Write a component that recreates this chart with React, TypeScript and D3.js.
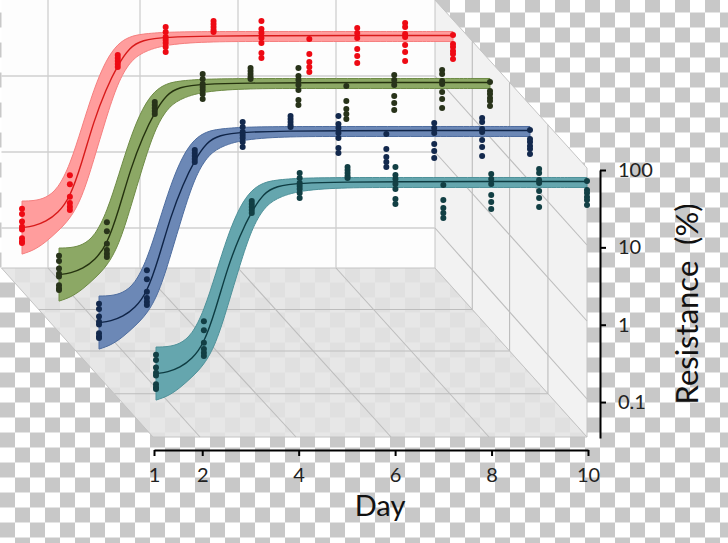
import React, { useEffect, useRef } from 'react';
import * as d3 from 'd3';

// Replicate readings per day (resistance in %), the same set is shown on every plane
const days = [1, 2, 3, 4, 5, 6, 7, 8, 9, 10];
const replicates = [
  [0.41, 0.35, 0.28, 0.24, 0.22, 0.17, 0.155, 0.147],
  [1.11, 0.85, 0.585, 0.484, 0.434, 0.394],
  [39.7, 36.3, 33.2, 30.4, 27.8],
  [91.4, 78.8, 67.9, 62, 56.8, 50.4, 43.5],
  [109, 100, 91.4, 83.6, 78.8],
  [109, 86.1, 76.5, 65.9, 56.8, 42.2, 36.3],
  [64, 40.9, 32.2, 27.8, 23.9],
  [88.8, 76.5, 65.9, 47.5, 38.5, 31.3],
  [103, 91.4, 74.3, 67.9, 53.5, 43.5, 33.2],
  [72, 55, 50.4, 44.8, 40.9, 35.2],
];

// Fitted curve and its band, read at these days
const fitDays = [1, 1.25, 1.5, 1.75, 2, 2.25, 2.5, 2.75, 3, 3.25, 3.5, 4, 5, 6, 8, 10];
const fitMean = [0.233, 0.244, 0.279, 0.36, 0.562, 1.6, 5.6, 14.2, 29.5, 50, 62, 67.9, 70, 70.6, 71, 71];
const fitUpper = [0.514, 0.517, 0.562, 0.74, 1.5, 4.6, 14.4, 34, 56, 68.9, 74.3, 78.8, 80, 80, 80, 80];
const fitLower = [0.106, 0.119, 0.152, 0.21, 0.3, 0.56, 1.75, 5.9, 17.5, 32.3, 43, 55, 59.4, 59.4, 59.4, 59.4];

const seriesNames = ['red', 'green', 'blue', 'teal'];

const dayTicks = [1, 2, 4, 6, 8, 10];
const resistanceTicks = [100, 10, 1, 0.1];
const gridDays = [2, 4, 6, 8];
const gridDecades = [10, 1, 0.1];

// Layout
const width = 728;
const height = 543;
const planeDx = { red: -134, green: -97, blue: -57, teal: 0 };
const planeDy = { red: -146, green: -99, blue: -51, teal: 0 };
const colors = {
  red: { band: '#ff9d9d', edge: '#f57f7f', line: '#d81a1a', dot: '#ee0a14' },
  green: { band: '#8ca865', edge: '#6e8b46', line: '#25320f', dot: '#28331a' },
  blue: { band: '#6c88b6', edge: '#4e6d9f', line: '#0f2447', dot: '#13294d' },
  teal: { band: '#65a6ae', edge: '#4e9199', line: '#0e3c42', dot: '#123f44' },
};

const App = () => {
  const xAxisRef = useRef<SVGGElement>(null);
  const yAxisRef = useRef<SVGGElement>(null);

  const xAxisScale = d3.scaleLinear().domain([1, 10]).range([154, 588]);
  const xSeries = d3.scaleLinear().domain([1, 10]).range([156, 587]);
  const y = d3.scaleLog().domain([0.0343, 100]).range([438, 170]);

  // Grid positions on the back wall and at the front edge of the floor
  const xBack = d3.scaleLinear().domain(gridDays).range([48, 140, 238, 336]);
  const xFront = d3.scaleLinear().domain(gridDays).range([200, 296, 391, 489]);
  const yBack = d3.scaleLog().domain(gridDecades).range([76, 152, 228]);
  const yFront = d3.scaleLog().domain(gridDecades).range([245, 321, 399]);

  useEffect(() => {
    const xAxis = d3.axisBottom(xAxisScale).tickValues(dayTicks).tickFormat((d) => String(d)).tickSize(6).tickPadding(12).tickSizeOuter(0);
    const yAxis = d3.axisRight(y).tickValues(resistanceTicks).tickFormat((d) => String(d)).tickSize(6).tickPadding(12).tickSizeOuter(0);

    [d3.select(xAxisRef.current).call(xAxis), d3.select(yAxisRef.current).call(yAxis)].forEach((g: any) => {
      g.attr('font-family', 'Lato').attr('font-size', 20);
      g.selectAll('path,line').attr('stroke', '#000').attr('stroke-width', 2);
      g.selectAll('text').attr('fill', '#222');
    });
  }, []);

  const fit = fitDays.map((d, i) => ({ day: d, mean: fitMean[i], upper: fitUpper[i], lower: fitLower[i] }));

  return (
    <svg width={width} height={height} style={{ position: 'absolute', left: 0, top: 0 }}>
      <defs>
        <pattern id="checker" x={0} y={-2.5} width={30} height={30} patternUnits="userSpaceOnUse">
          <rect width={30} height={30} fill="#fff" />
          <rect x={15} y={0} width={15} height={15} fill="#c8c8c8" />
          <rect x={0} y={15} width={15} height={15} fill="#c8c8c8" />
        </pattern>
      </defs>
      <rect width={width} height={height} fill="url(#checker)" />

      {/* back wall, floor, side wall */}
      <polygon points="1.5,0 435,0 435,268 1.5,268" fill="#fdfdfd" />
      <polygon points="1.5,268 435,268 587,437 153,437" fill="#e4e4e4" fillOpacity={0.87} stroke="#c4c4c4" strokeWidth={1} />
      <polygon points="435,0 587,168 587,437 435,268" fill="#f2f2f2" stroke="#c4c4c4" strokeWidth={1} />

      {/* grid */}
      <g stroke="#cfcfcf" strokeWidth={1.3} fill="none">
        {gridDays.map((d) => (
          <line key={d} x1={xBack(d)} x2={xBack(d)} y1={0} y2={268} />
        ))}
        {gridDecades.map((v) => (
          <line key={v} x1={1.5} x2={435} y1={yBack(v)} y2={yBack(v)} />
        ))}
      </g>
      <g stroke="#bdbdbd" strokeWidth={1.1} fill="none">
        {gridDays.map((d) => (
          <line key={d} x1={xBack(d)} x2={xFront(d)} y1={268} y2={437} />
        ))}
        {gridDecades.map((v) => (
          <line key={v} x1={435} x2={587} y1={yBack(v)} y2={yFront(v)} />
        ))}
        {[309.5, 351, 393.7].map((fy) => (
          <g key={fy}>
            <line x1={1.5 + (fy - 268) / 1.113} x2={435 + (fy - 268) / 1.113} y1={fy} y2={fy} />
            <line
              x1={435 + (fy - 268) / 1.113}
              x2={435 + (fy - 268) / 1.113}
              y1={fy}
              y2={((fy - 268) / 1.113) * 1.105}
            />
          </g>
        ))}
      </g>

      {/* one plane per series, back to front */}
      {seriesNames.map((name) => {
        const dx = planeDx[name];
        const dy = planeDy[name];
        const c = colors[name];
        const px = (d: number) => xSeries(d) + dx;
        const py = (v: number) => y(v) + dy;
        const area = d3.area<any>().x((d) => px(d.day)).y0((d) => py(d.lower)).y1((d) => py(d.upper)).curve(d3.curveBasis);
        const line = d3.line<any>().x((d) => px(d.day)).y((d) => py(d.mean)).curve(d3.curveBasis);
        return (
          <g key={name}>
            <path d={area(fit)!} fill={c.band} stroke={c.edge} strokeWidth={1} />
            <path d={line(fit)!} fill="none" stroke={c.line} strokeWidth={1.4} />
            {days.map((d, i) =>
              replicates[i].map((v, j) => <circle key={`${d}-${j}`} cx={px(d)} cy={py(v)} r={3} fill={c.dot} />)
            )}
          </g>
        );
      })}

      {/* axes */}
      <g ref={xAxisRef} transform="translate(0,450)" />
      <g ref={yAxisRef} transform="translate(600,0)" />
      <text x={380} y={516} textAnchor="middle" fontFamily="Lato" fontSize={29} fill="#111">
        Day
      </text>
      <text
        transform="translate(698,304) rotate(-90)"
        textAnchor="middle"
        fontFamily="Lato"
        fontSize={31}
        fill="#111"
        style={{ whiteSpace: 'pre' }}
      >
        Resistance  (%)
      </text>
    </svg>
  );
};

export default App;
